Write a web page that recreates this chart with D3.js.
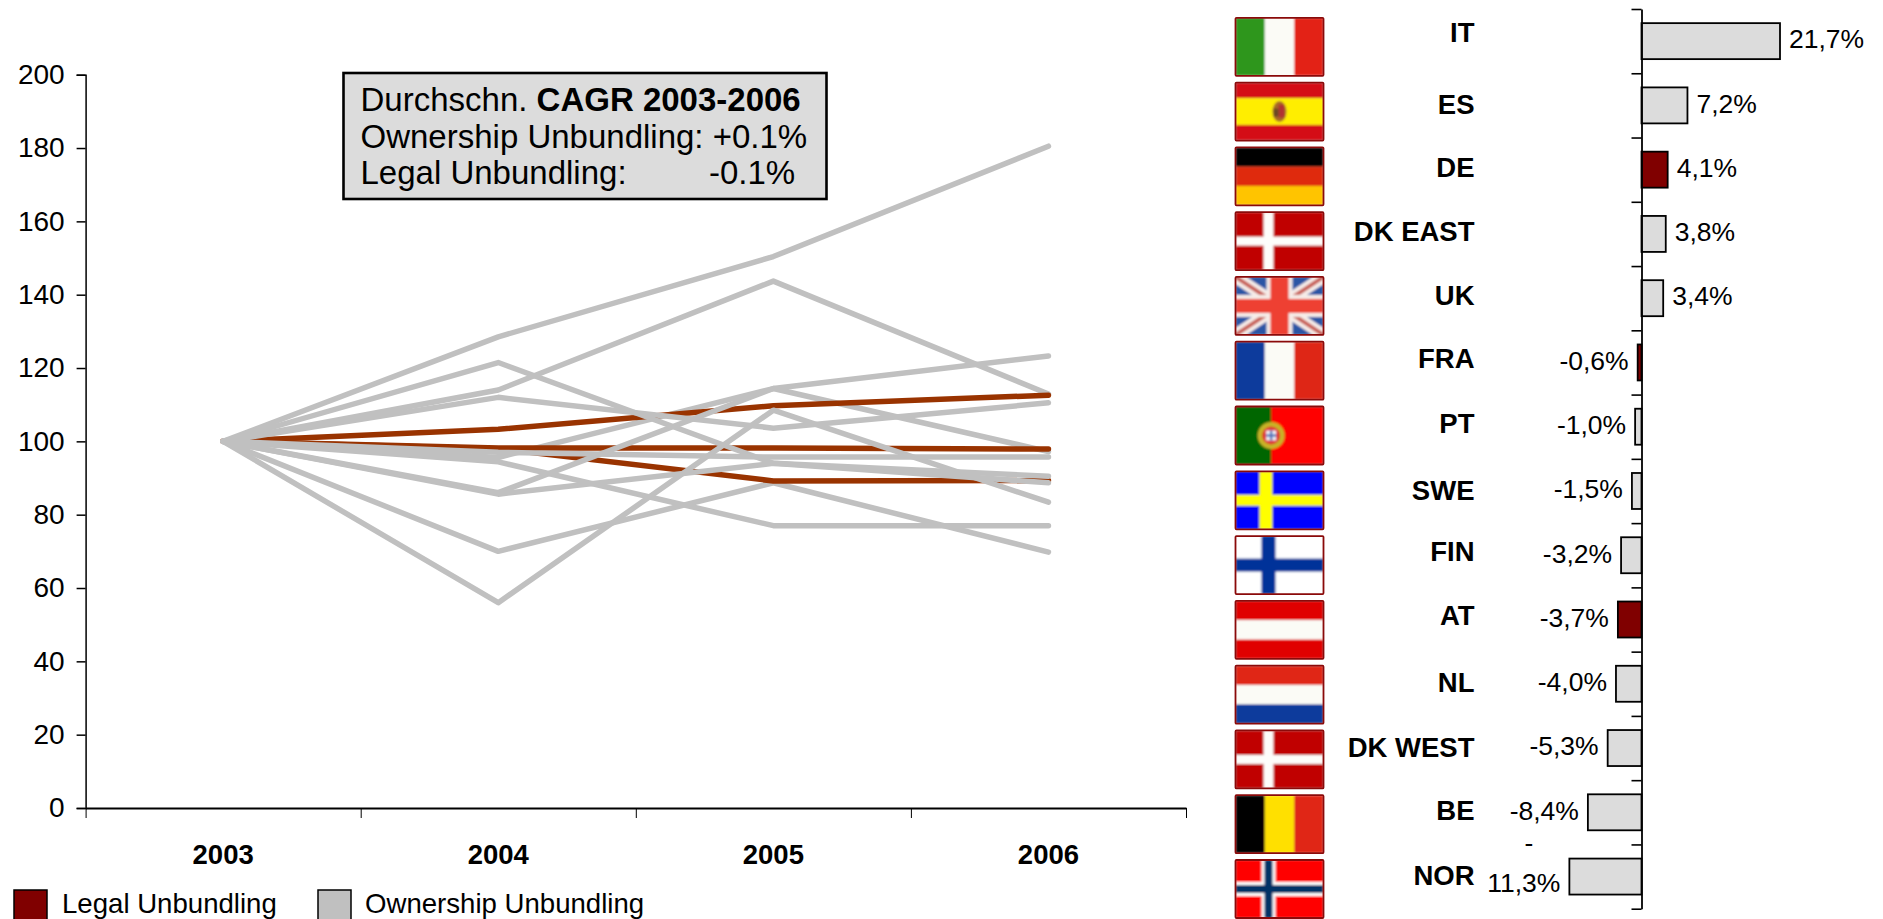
<!DOCTYPE html>
<html>
<head>
<meta charset="utf-8">
<title>Unbundling CAGR 2003-2006</title>
<script src="https://cdn.jsdelivr.net/npm/d3@7/dist/d3.min.js"></script>
<style>
  html, body { margin: 0; padding: 0; background: #fff; overflow: hidden; }
  svg { display: block; font-family: "Liberation Sans", Arial, sans-serif; fill: #000; }
</style>
</head>
<body>
<svg id="chart" width="1883" height="919"></svg>
<script>
// Price index by year, 2003 = 100
const years = ["2003", "2004", "2005", "2006"];
const seriesOwnershipA = [100, 128.5, 150.4, 180.5];
const seriesOwnershipB = [100, 114, 143.7, 112.9];
const seriesOwnershipC = [100, 95.6, 114.4, 97.2];
const seriesOwnershipD = [100, 112, 103.6, 110.5];
const seriesOwnershipE = [100, 97, 95.7, 95.7];
const seriesOwnershipF = [100, 94.4, 77, 77];
const seriesOwnershipG = [100, 70, 88.7, 69.8];
const seriesOwnershipH = [100, 56, 108.5, 83.4];
const seriesOwnershipI = [100, 121.5, 94, 88.7];
const seriesOwnershipJ = [100, 85.6, 94, 90.5];
const seriesOwnershipK = [100, 86, 114.4, 123.3];
const seriesLegalA = [100, 103.3, 109.7, 112.6];
const seriesLegalB = [100, 98.2, 98.2, 97.9];
const seriesLegalC = [100, 98, 89.2, 89.3];
const yTicks = [0, 20, 40, 60, 80, 100, 120, 140, 160, 180, 200];

// Country ranking by CAGR, in percent
const countries = ["IT", "ES", "DE", "DK EAST", "UK", "FRA", "PT", "SWE", "FIN", "AT", "NL", "DK WEST", "BE", "NOR"];
const cagrValues = [21.7, 7.2, 4.1, 3.8, 3.4, -0.6, -1.0, -1.5, -3.2, -3.7, -4.0, -5.3, -8.4, -11.3];
const legalCountries = ["DE", "FRA", "AT"];

const RED_LINE = "#993300", GREY_LINE = "#c0c0c0", RED_BAR = "#800000", GREY_BAR = "#dcdcdc";
const FONT = 27.5, VALUE_FONT = 26.5;

const svg = d3.select("#chart");

/* ---------- line chart ---------- */
const y = d3.scaleLinear().domain([0, 200]).range([808, 74.7]);
const xBand = d3.scaleBand().domain(years).range([85.6, 1186]);
const xCentre = d => xBand(d) + xBand.bandwidth() / 2;
const xEdges = d3.scaleLinear().domain([0, years.length]).range([85.6, 1186]);

const yAxis = svg.append("g").attr("transform", "translate(85.6,0)")
  .call(d3.axisLeft(y).tickValues(yTicks).tickSize(9).tickPadding(12));
yAxis.select(".domain").attr("stroke-width", 1.5);
yAxis.selectAll("text").attr("font-size", 28).attr("fill", "#000");
yAxis.selectAll("line").attr("stroke-width", 1.5);

const xTicks = svg.append("g").attr("transform", "translate(0,808)")
  .call(d3.axisBottom(xEdges).tickValues(d3.range(years.length + 1)).tickFormat("").tickSize(10).tickSizeOuter(0));
xTicks.select(".domain").attr("stroke-width", 2.2);
xTicks.selectAll("line").attr("stroke-width", 1);

const xLabels = svg.append("g").attr("transform", "translate(0,808)")
  .call(d3.axisBottom(xBand).tickSize(0).tickPadding(36));
xLabels.select(".domain").remove();
xLabels.selectAll("text").attr("font-size", FONT).attr("font-weight", "bold").attr("fill", "#000");

// Paint order decides which line stays on top where they cross
const lineSeries = [
  [seriesOwnershipB, GREY_LINE], [seriesOwnershipC, GREY_LINE], [seriesOwnershipG, GREY_LINE],
  [seriesLegalC, RED_LINE], [seriesLegalA, RED_LINE], [seriesLegalB, RED_LINE],
  [seriesOwnershipD, GREY_LINE], [seriesOwnershipE, GREY_LINE], [seriesOwnershipF, GREY_LINE],
  [seriesOwnershipA, GREY_LINE], [seriesOwnershipK, GREY_LINE], [seriesOwnershipH, GREY_LINE],
  [seriesOwnershipI, GREY_LINE], [seriesOwnershipJ, GREY_LINE]
];
const line = d3.line().x((d, i) => xCentre(years[i])).y(d => y(d));
svg.append("g").selectAll("path").data(lineSeries).join("path")
  .attr("d", d => line(d[0]))
  .attr("fill", "none")
  .attr("stroke", d => d[1])
  .attr("stroke-width", 5.5)
  .attr("stroke-linecap", "round")
  .attr("stroke-linejoin", "round");

/* ---------- CAGR callout ---------- */
svg.append("rect").attr("x", 343.5).attr("y", 73).attr("width", 483).attr("height", 126)
  .attr("fill", GREY_BAR).attr("stroke", "#000").attr("stroke-width", 2.6);
const callout = svg.append("g").attr("font-size", 33);
const first = callout.append("text").attr("x", 360.5).attr("y", 111);
first.append("tspan").text("Durchschn. ");
first.append("tspan").attr("font-weight", "bold").text("CAGR 2003-2006");
callout.append("text").attr("x", 360.5).attr("y", 148).text("Ownership Unbundling: +0.1%");
callout.append("text").attr("x", 360.5).attr("y", 184).text("Legal Unbundling:");
callout.append("text").attr("x", 709).attr("y", 184).text("-0.1%");

/* ---------- legend ---------- */
const legendItems = [["Legal Unbundling", RED_BAR, 14, 62], ["Ownership Unbundling", GREY_LINE, 318, 365]];
const legend = svg.append("g").selectAll("g").data(legendItems).join("g");
legend.append("rect").attr("x", d => d[2]).attr("y", 890).attr("width", 33).attr("height", 40)
  .attr("fill", d => d[1]).attr("stroke", "#000").attr("stroke-width", 1.5);
legend.append("text").attr("x", d => d[3]).attr("y", 912.5).attr("font-size", 27.6).text(d => d[0]);

/* ---------- ranked bars ---------- */
const barX = d3.scaleLinear().domain([0, 21.7]).range([1641.5, 1780]);
const barY = d3.scaleBand().domain(countries).range([9, 908.7]).paddingInner(0.44).paddingOuter(0.22);
const barEdges = d3.scaleLinear().domain([0, countries.length]).range([9, 908.7]);
const pct = d3.formatLocale({ decimal: ",", thousands: ".", grouping: [3], currency: ["", ""], minus: "-" }).format(".1f");
const bars = countries.map((name, i) => ({ name, value: cagrValues[i], legal: legalCountries.includes(name) }));

svg.append("g").selectAll("rect").data(bars).join("rect")
  .attr("x", d => Math.min(barX(d.value), barX(0)))
  .attr("y", d => barY(d.name))
  .attr("width", d => Math.abs(barX(d.value) - barX(0)))
  .attr("height", barY.bandwidth())
  .attr("fill", d => d.legal ? RED_BAR : GREY_BAR)
  .attr("stroke", "#000").attr("stroke-width", 1.8);

const barAxis = svg.append("g").attr("transform", "translate(1641.5,0)")
  .call(d3.axisLeft(barEdges).tickValues(d3.range(countries.length + 1)).tickFormat("").tickSize(10).tickSizeOuter(0));
barAxis.select(".domain").attr("stroke-width", 1.8);
barAxis.selectAll("line").attr("stroke-width", 1.6);

// Small vertical corrections for the country names, which sit unevenly in their rows
const nameNudge = [-9, -1.5, -2, -3, -3, -3.6, -3, -1, -4, -4.6, -1, -1, -2.4, -0.7];
svg.append("g").selectAll("text").data(bars).join("text")
  .attr("x", 1474.5)
  .attr("y", (d, i) => barY(d.name) + barY.bandwidth() / 2 + nameNudge[i])
  .attr("dy", "0.35em")
  .attr("text-anchor", "end").attr("font-size", FONT).attr("font-weight", "bold")
  .text(d => d.name);

// Value labels; the longest negative one breaks after its sign
const valueLabels = svg.append("g").selectAll("text").data(bars).join("text")
  .attr("font-size", VALUE_FONT)
  .attr("text-anchor", d => d.value < 0 ? "end" : "start")
  .attr("x", d => barX(d.value) + (d.value < 0 ? -9 : 9))
  .attr("y", d => barY(d.name) + barY.bandwidth() / 2 - 2)
  .attr("dy", "0.35em");
valueLabels.filter(d => d.value > -10).text(d => pct(d.value) + "%");
valueLabels.filter(d => d.value <= -10).each(function (d) {
  const t = d3.select(this), x = barX(d.value) - 9, cy = barY(d.name) + barY.bandwidth() / 2;
  t.attr("y", null).attr("dy", null);
  t.append("tspan").attr("x", x - 27).attr("y", cy - 25).text("-");
  t.append("tspan").attr("x", x).attr("y", cy + 15).text(pct(-d.value) + "%");
});

/* ---------- flags ---------- */
const defs = svg.append("defs");
defs.append("filter").attr("id", "soft").attr("x", "-5%").attr("y", "-5%").attr("width", "110%").attr("height", "110%")
  .append("feGaussianBlur").attr("stdDeviation", 0.8);

const FW = 88, FH = 58;
const stripesV = cols => g => cols.forEach((c, i) => g.append("rect")
  .attr("x", FW * i / cols.length).attr("y", 0).attr("width", FW / cols.length).attr("height", FH).attr("fill", c));
const stripesH = (cols, shares) => g => {
  const total = d3.sum(shares), stack = d3.cumsum(shares);
  cols.forEach((c, i) => g.append("rect").attr("x", 0).attr("width", FW)
    .attr("y", FH * (stack[i] - shares[i]) / total).attr("height", FH * shares[i] / total).attr("fill", c));
};
const cross = (field, colour, armV, armH, cx) => g => {
  g.append("rect").attr("width", FW).attr("height", FH).attr("fill", field);
  g.append("rect").attr("x", FW * cx - armV / 2).attr("width", armV).attr("height", FH).attr("fill", colour);
  g.append("rect").attr("y", FH / 2 - armH / 2).attr("width", FW).attr("height", armH).attr("fill", colour);
};

const flagPainters = {
  "IT": stripesV(["#2f961c", "#fbfbf6", "#e32412"]),
  "ES": g => {
    stripesH(["#d40a14", "#ffee00", "#d40a14"], [1, 1.7, 1])(g);
    g.append("ellipse").attr("cx", FW / 2).attr("cy", FH / 2).attr("rx", 7).attr("ry", 10.5).attr("fill", "#a86a28");
    g.append("rect").attr("x", FW / 2 - 1).attr("y", FH / 2 - 7).attr("width", 6).attr("height", 13).attr("fill", "#b03030");
    g.append("rect").attr("x", FW / 2 - 6).attr("y", FH / 2 - 3).attr("width", 5).attr("height", 8).attr("fill", "#6a4a20");
  },
  "DE": stripesH(["#000000", "#df2a10", "#ffc400"], [1, 1, 1]),
  "DK EAST": cross("#c00000", "#fdfdfa", 10, 9, 0.375),
  "DK WEST": cross("#c00000", "#fdfdfa", 10, 9, 0.375),
  "UK": g => {
    g.append("rect").attr("width", FW).attr("height", FH).attr("fill", "#2c55a5");
    const diag = (w, c) => [[0, 0, FW, FH], [0, FH, FW, 0]].forEach(p => g.append("line")
      .attr("x1", p[0]).attr("y1", p[1]).attr("x2", p[2]).attr("y2", p[3]).attr("stroke", c).attr("stroke-width", w));
    diag(12, "#f6ece8"); diag(4, "#c86058");
    g.append("rect").attr("x", FW / 2 - 13).attr("width", 26).attr("height", FH).attr("fill", "#f6ece8");
    g.append("rect").attr("y", FH / 2 - 11).attr("width", FW).attr("height", 22).attr("fill", "#f6ece8");
    g.append("rect").attr("x", FW / 2 - 9).attr("width", 18).attr("height", FH).attr("fill", "#ee4030");
    g.append("rect").attr("y", FH / 2 - 7).attr("width", FW).attr("height", 14).attr("fill", "#ee4030");
  },
  "FRA": stripesV(["#0a3a9c", "#fbfbf6", "#de2712"]),
  "PT": g => {
    g.append("rect").attr("width", FW).attr("height", FH).attr("fill", "#ff0000");
    g.append("rect").attr("width", FW * 0.405).attr("height", FH).attr("fill", "#006600");
    g.append("circle").attr("cx", FW * 0.405).attr("cy", FH / 2).attr("r", 13.5).attr("fill", "#c8b428");
    g.append("circle").attr("cx", FW * 0.405).attr("cy", FH / 2).attr("r", 9).attr("fill", "#e03030");
    g.append("rect").attr("x", FW * 0.405 - 5).attr("y", FH / 2 - 5).attr("width", 10).attr("height", 10).attr("fill", "#f0f4fa");
    g.append("rect").attr("x", FW * 0.405 - 1.2).attr("y", FH / 2 - 5).attr("width", 2.4).attr("height", 10).attr("fill", "#5070b8");
    g.append("rect").attr("x", FW * 0.405 - 5).attr("y", FH / 2 - 1.2).attr("width", 10).attr("height", 2.4).attr("fill", "#5070b8");
  },
  "SWE": cross("#0000ff", "#ffff00", 13, 11, 0.345),
  "FIN": cross("#ffffff", "#003399", 14, 13, 0.375),
  "AT": stripesH(["#e00000", "#fbfbf6", "#e00000"], [1, 1, 1]),
  "NL": stripesH(["#e02812", "#fbfbf6", "#0a3a9c"], [1, 1, 1]),
  "BE": stripesV(["#000000", "#ffe000", "#e02812"]),
  "NOR": g => {
    cross("#ff0000", "#ffffff", 14, 14, 0.375)(g);
    g.append("rect").attr("x", FW * 0.375 - 4).attr("width", 8).attr("height", FH).attr("fill", "#003366");
    g.append("rect").attr("y", FH / 2 - 4).attr("width", FW).attr("height", 8).attr("fill", "#003366");
  }
};

const flagTop = d3.scaleLinear().domain([0, countries.length - 1]).range([17.8, 860]);
const flags = svg.append("g").selectAll("g").data(countries).join("g")
  .attr("transform", (d, i) => `translate(1235.5,${flagTop(i)})`);
flags.each(function (name) {
  const outer = d3.select(this);
  const clipId = "clip-" + name.replace(" ", "-");
  defs.append("clipPath").attr("id", clipId).append("rect").attr("width", FW).attr("height", FH);
  const inner = outer.append("g").attr("clip-path", `url(#${clipId})`).append("g").attr("filter", "url(#soft)");
  flagPainters[name](inner);
  outer.append("rect").attr("width", FW).attr("height", FH).attr("rx", 1)
    .attr("fill", "none").attr("stroke", "#8a0a0a").attr("stroke-width", 1.8);
});
</script>
</body>
</html>
